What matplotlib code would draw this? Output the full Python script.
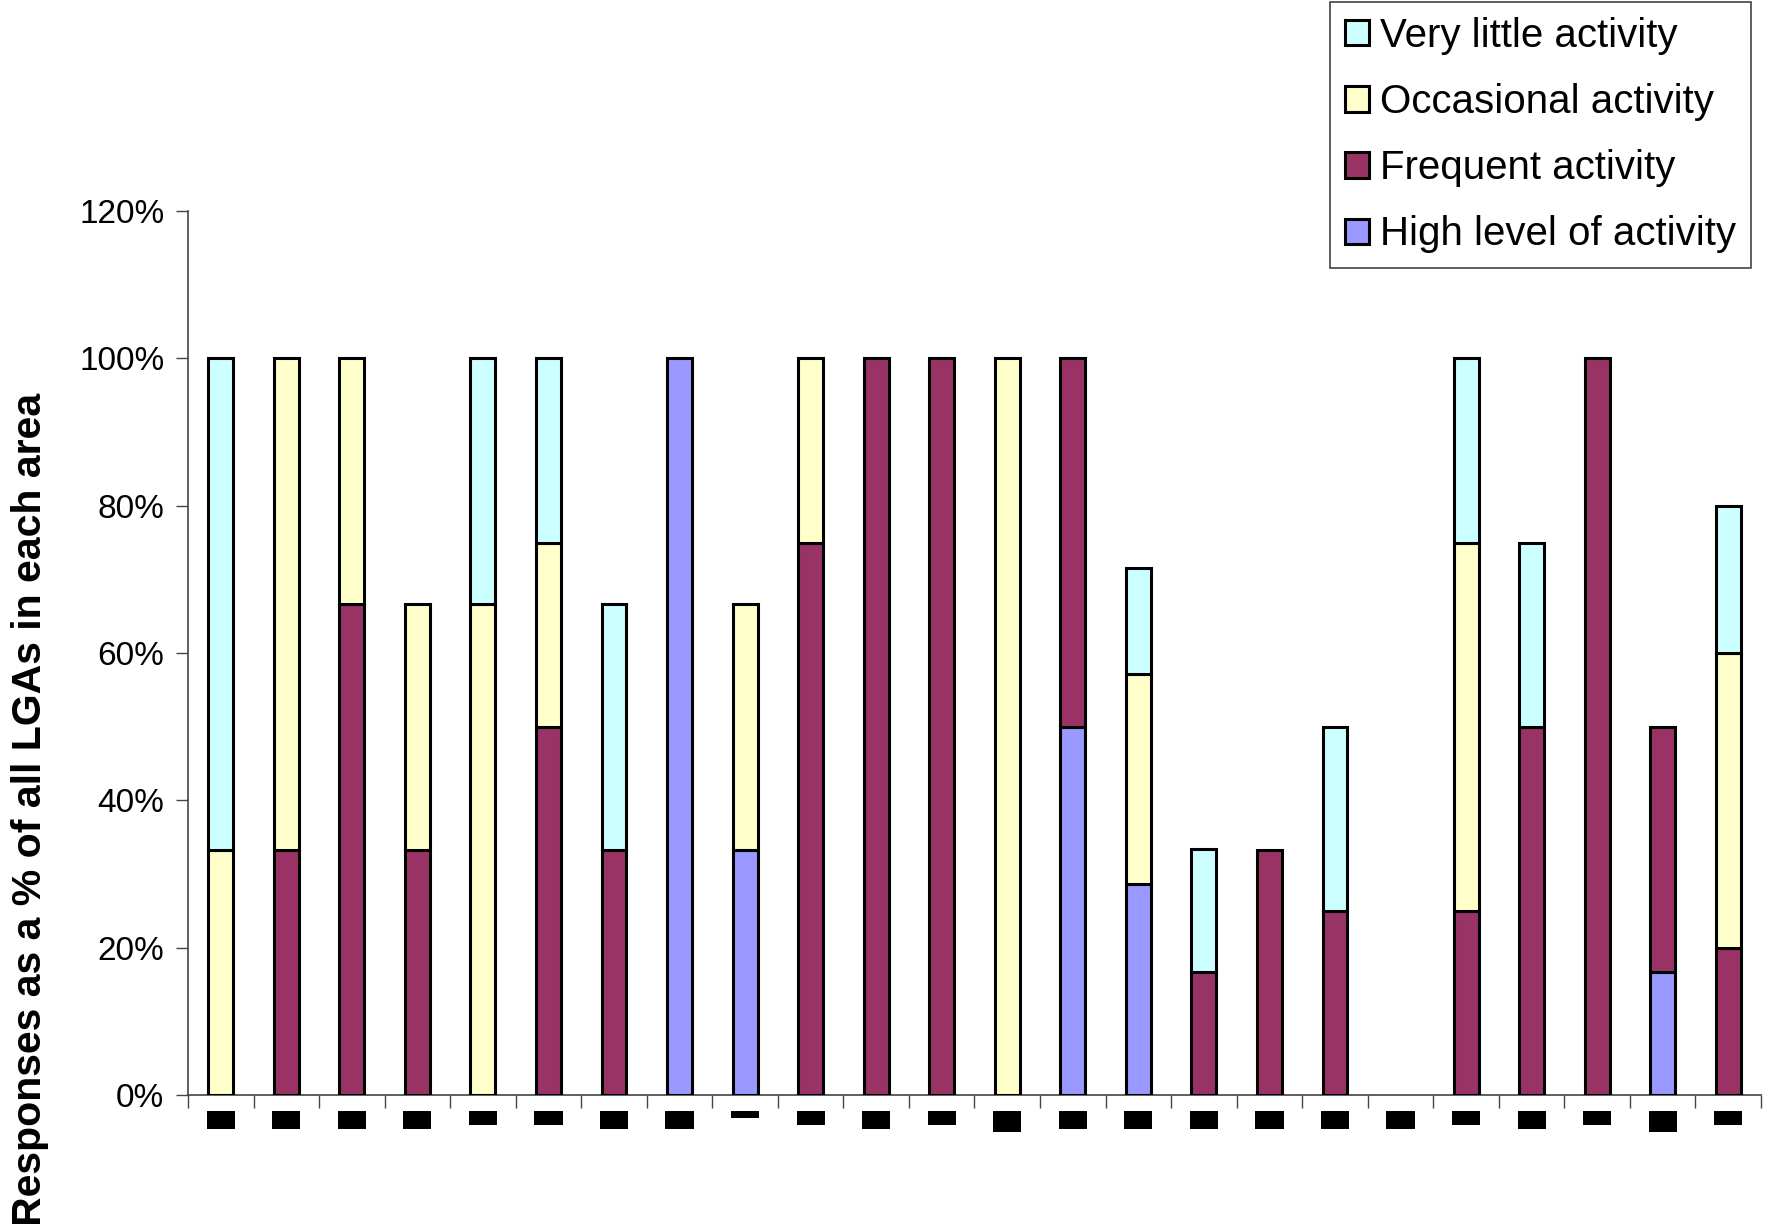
import numpy as np
import matplotlib
matplotlib.use("Agg")
import matplotlib.pyplot as plt
from matplotlib.patches import Rectangle
from matplotlib.transforms import blended_transform_factory

plt.rcParams['font.family'] = ['Liberation Sans', 'DejaVu Sans']

# Categories (area names are redacted in the original chart)
areas = [f"Area {i}" for i in range(1, 25)]

series_names = ["High level of activity", "Frequent activity",
                "Occasional activity", "Very little activity"]

high = [0, 0, 0, 0, 0, 0, 0, 100, 33.3, 0, 0, 0, 0, 50, 28.6, 0, 0, 0, 0, 0, 0, 0, 16.7, 0]
frequent = [0, 33.3, 66.7, 33.3, 0, 50, 33.3, 0, 0, 75, 100, 100, 0, 50, 0, 16.7, 33.3, 25, 0, 25, 50, 100, 33.3, 20]
occasional = [33.3, 66.7, 33.3, 33.3, 66.7, 25, 0, 0, 33.3, 25, 0, 0, 100, 0, 28.6, 0, 0, 0, 0, 50, 0, 0, 0, 40]
very_little = [66.7, 0, 0, 0, 33.3, 25, 33.3, 0, 0, 0, 0, 0, 0, 0, 14.3, 16.7, 0, 25, 0, 25, 25, 0, 0, 20]

yticks = [0, 20, 40, 60, 80, 100, 120]
ytick_labels = ["0%", "20%", "40%", "60%", "80%", "100%", "120%"]

colors = ["#9999FF", "#993366", "#FFFFCC", "#CCFFFF"]

# redaction block heights (px) under each category (style only)
block_h = [18, 18, 18, 18, 14, 14, 18, 18, 7, 14, 18, 14, 21, 18, 18, 18, 18, 18, 18, 14, 18, 14, 21, 14]

W, H = 1768, 1224
fig = plt.figure(figsize=(W / 100, H / 100), dpi=100)
ax = fig.add_axes([188 / W, 1 - 1095 / H, (1761 - 188) / W, (1095 - 211) / H])

x = np.arange(len(areas))
bottom = np.zeros(len(areas))
handles = []
for vals, name, c in zip([high, frequent, occasional, very_little], series_names, colors):
    vals = np.array(vals, dtype=float)
    m = vals > 0
    b = ax.bar(x[m], vals[m], bottom=bottom[m], width=0.38, color=c,
               edgecolor="black", linewidth=2.2, label=name, zorder=3)
    handles.append(b)
    bottom += vals

ax.set_xlim(-0.5, len(areas) - 0.5)
ax.set_ylim(0, 120)
ax.set_yticks(yticks)
ax.set_yticklabels(ytick_labels, fontsize=24)
ax.set_xticks(np.arange(-0.5, len(areas), 1.0))
ax.set_xticklabels([])
ax.tick_params(axis='y', direction='out', length=9, width=1, color='#444444', pad=8)
ax.tick_params(axis='x', direction='out', length=9, width=1, color='#444444')
for s in ['top', 'right']:
    ax.spines[s].set_visible(False)
for s in ['left', 'bottom']:
    ax.spines[s].set_color('#444444')
    ax.spines[s].set_linewidth(1.2)

# redacted category labels drawn as black blocks
tr = blended_transform_factory(ax.transData, fig.transFigure)
bw = 0.43
for xi, h in zip(x, block_h):
    top = 1 - 1111 / H
    ax.add_patch(Rectangle((xi - bw / 2, top - h / H), bw, h / H, transform=tr,
                           facecolor='black', edgecolor='none', clip_on=False))

fig.text(30 / W, 1 - 809 / H, "Responses as a % of all LGAs in each area",
         rotation=90, ha='center', va='center', fontsize=29.5, fontweight='bold')

leg = fig.legend(handles[::-1], series_names[::-1], loc='upper right',
                 bbox_to_anchor=(1751 / W, 1 - 2 / H), fontsize=29,
                 frameon=True, fancybox=False, framealpha=1, edgecolor='#444444',
                 handlelength=0.6, handleheight=0.6, handletextpad=0.28,
                 labelspacing=0.7, borderpad=0.37, borderaxespad=0)
leg.get_frame().set_linewidth(1.2)

fig.savefig("out.png", dpi=100)
